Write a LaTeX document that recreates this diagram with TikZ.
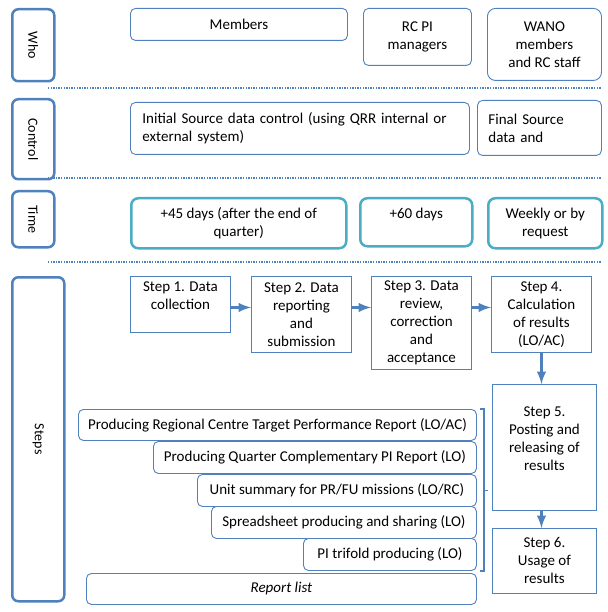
\documentclass[tikz,border=0pt]{standalone}
\usepackage{fontspec}
\setmainfont{Carlito}
\usetikzlibrary{calc,shapes}

\definecolor{rowblue}{RGB}{79,129,189}
\definecolor{timeblue}{RGB}{75,172,198}

\begin{document}
\begin{tikzpicture}[x=1pt,y=-1pt,
	lab/.style={rectangle, rounded corners=6pt, draw=rowblue, line width=2.5pt, fill=white, anchor=north west, inner sep=0},
	labtxt/.style={rotate=-90, inner sep=0, font=\fontsize{14}{16}\selectfont},
	rbox/.style={rectangle, rounded corners=5pt, draw=rowblue, line width=0.9pt, fill=white, anchor=north west, align=center, inner sep=0, font=\fontsize{15}{18}\selectfont},
	tbox/.style={rbox, draw=timeblue, line width=2.5pt, rounded corners=7pt},
	stepbox/.style={rectangle, draw=rowblue, line width=0.9pt, fill=white, anchor=north west, align=center, inner sep=0, font=\fontsize{15}{18}\selectfont},
	sep/.style={rowblue, line width=2.5pt, dash pattern=on 1.3pt off 1.3pt},
	arr/.style={rowblue, line width=3.2pt, -latex}]

		\useasboundingbox (0,0) rectangle (607,612);
		%row labels
		\foreach \n/\y/\w/\h/\t in {who/8/42/72/Who, ctl/98/42/80/Control, time/190/42/56/Time, steps/276/52/324/Steps} {
			\node[lab, minimum width=\w, minimum height=\h] at (11,\y) (l\n) {};
			\node[labtxt] at (l\n) (t\n) {\t};
		}
		%separators
		\foreach \y in {88,178,262} {
			\draw[sep] (48,\y) -- (601,\y);
		}
		%who
		\node[rbox, minimum width=217, minimum height=32] at (130,8) (w1) {Members};
		\node[rbox, minimum width=108, minimum height=57] at (363,8) (w2) {RC PI\\managers};
		\node[rbox, minimum width=114, minimum height=72, rounded corners=8pt] at (487,8) (w3) {WANO\\members\\and RC staff};
		%control
		\node[rbox, align=left, inner xsep=12, text width=315, minimum height=52] at (130,102) (c1) {Initial Source data control (using QRR internal or\\external system)};
		\node[rbox, align=left, inner xsep=11, text width=102, minimum height=55] at (477,100) (c2) {Final Source\\data and};
		%time
		\node[tbox, minimum width=215, minimum height=50] at (130,197) (d1) {+45 days (after the end of\\quarter)};
		\node[tbox, minimum width=112, minimum height=48] at (359,197) (d2) {+60 days\\~};
		\node[tbox, minimum width=114, minimum height=50] at (487,197) (d3) {Weekly or by\\request};
		%steps
		\node[stepbox, minimum width=100, minimum height=56] at (130,276) (s1) {Step 1. Data\\collection\\~};
		\node[stepbox, minimum width=100, minimum height=76] at (251,276) (s2) {Step 2. Data\\reporting\\and\\submission};
		\node[stepbox, minimum width=100, minimum height=93] at (371,276) (s3) {Step 3. Data\\review,\\correction\\and\\acceptance};
		\node[stepbox, minimum width=100, minimum height=76] at (491,276) (s4) {Step 4.\\Calculation\\of results\\(LO/AC)};
		\node[stepbox, minimum width=104, minimum height=126] at (492,384) (s5) {Step 5.\\Posting and\\releasing of\\results\\~};
		\node[stepbox, minimum width=104, minimum height=65] at (492,528) (s6) {Step 6.\\Usage of\\results};
		\draw[arr] ([yshift=-3]s1.east) -- ([yshift=-3]s1.east -| s2.west);
		\draw[arr] ([yshift=-3]s1.east -| s2.east) -- ([yshift=-3]s1.east -| s3.west);
		\draw[arr] ([yshift=-3]s1.east -| s3.east) -- ([yshift=-3]s1.east -| s4.west);
		\draw[arr] (s4.south) -- (s4.south |- s5.north);
		\draw[arr] (s4.south |- s5.south) -- (s4.south |- s6.north);
		%reports
		\node[rbox, minimum width=398, minimum height=31] at (78,409) (r1) {Producing Regional Centre Target Performance Report (LO/AC)};
		\node[rbox, minimum width=323, minimum height=32] at (153,441) (r2) {Producing Quarter Complementary PI Report (LO)};
		\node[rbox, minimum width=279, minimum height=32] at (197,474) (r3) {Unit summary for PR/FU missions (LO/RC)};
		\node[rbox, minimum width=265, minimum height=32] at (211,506) (r4) {Spreadsheet producing and sharing (LO)};
		\node[rbox, minimum width=173, minimum height=32] at (303,538) (r5) {PI trifold producing (LO)};
		\node[rbox, minimum width=390, minimum height=31] at (86,573) (rl) {\itshape Report list};
		%bracket
		\draw[rowblue, line width=1.5pt] ([xshift=3]r1.north east) -- ([xshift=7]r1.north east) coordinate (b1) -- (b1 |- r5.south) -- ([xshift=3]r5.south east);
		\draw[rowblue, line width=1.5pt] (b1 |- r3.east) -- ++(4,0) coordinate (b2);
\end{tikzpicture}
\end{document}
